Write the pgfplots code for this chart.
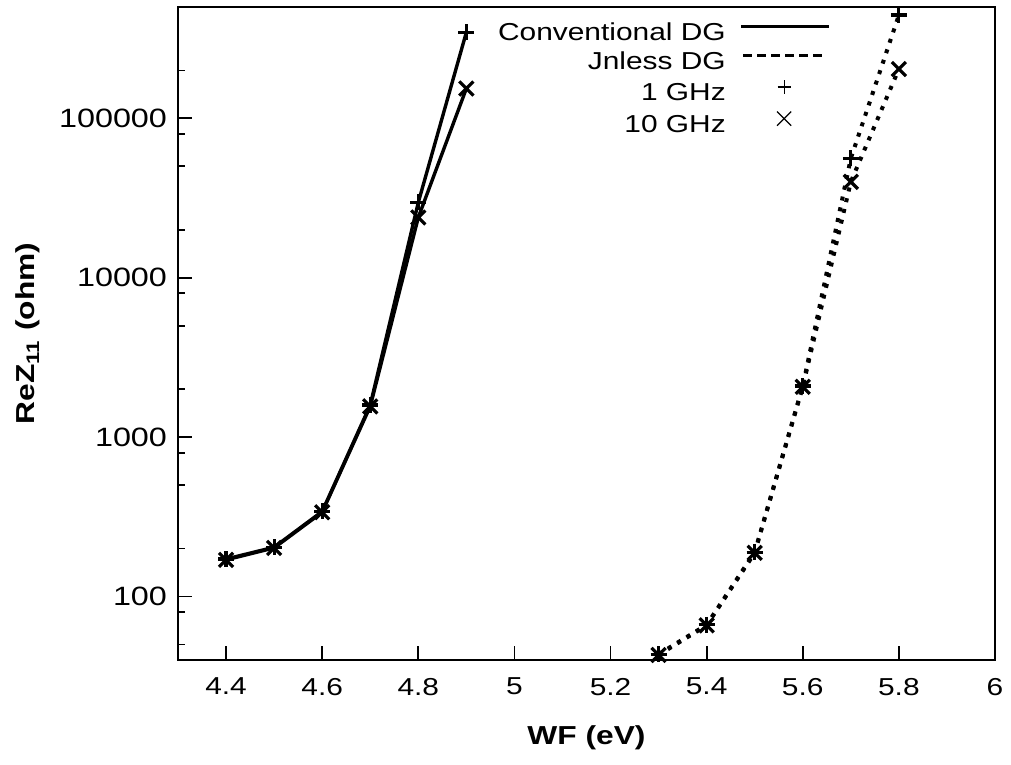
\documentclass[border=0pt]{standalone}
\usepackage{fontspec}
\setmainfont{Liberation Sans}[FakeStretch=1.22]
\usepackage{pgfplots}
\pgfplotsset{compat=1.18}
\begin{document}
\begin{tikzpicture}
\begin{axis}[
  at={(0bp,0bp)}, anchor=south west,
  scale only axis, width=408.5bp, height=326.5bp,
  xmin=4.3, xmax=6, ymin=40, ymax=500000, ymode=log,
  xtick={4.4,4.6,4.8,5,5.2,5.4,5.6,5.8,6},
  xticklabels={4.4,4.6,4.8,5,5.2,5.4,5.6,5.8,6},
  ytick={100,1000,10000,100000},
  yticklabels={100,1000,10000,100000},
  minor ytick={50,80,200,500,800,2000,5000,8000,20000,50000,80000,200000},
  tick align=inside, xtick pos=bottom, ytick pos=left,
  major tick length=7bp, minor tick length=3.5bp,
  every tick/.style={black, line width=0.9bp},
  axis line style={line width=0.9bp},
  font=\fontsize{12.25bp}{14.7bp}\selectfont,
  /pgf/number format/assume math mode=true,
  xticklabel style={yshift=-5.5bp},
  yticklabel style={xshift=-2bp, font=\fontsize{13.25bp}{15bp}\selectfont},
  xlabel={\textbf{WF (eV)}},
  ylabel={\textbf{ReZ\textsubscript{11} (ohm)}},
  xlabel style={at={(axis description cs:0.5,-0.1195)}, anchor=center, font=\fontsize{13bp}{15bp}\selectfont},
  ylabel style={at={(axis description cs:-0.1836,0.5)}, anchor=center, font=\fontsize{13bp}{15bp}\selectfont},
  legend style={draw=none, fill=none, inner sep=0pt, at={(rel axis cs:0.7993,0.977)}, anchor=north east,
     nodes={inner sep=0pt, text height=9bp, text depth=2.5bp}, row sep=3bp, column sep=0bp},
  legend cell align=right, legend plot pos=right,
]
\addlegendimage{legend image code/.code={\path (-7.5bp,0bp) (44bp,0bp); \draw[line width=1.5bp] (0bp,3.5bp) -- (44bp,3.5bp);}}
\addlegendentry{Conventional DG}
\addlegendimage{legend image code/.code={\path (-7.5bp,0bp) (44bp,0bp); \draw[line width=1.5bp, dash pattern=on 4.5bp off 2.5bp] (1bp,3.5bp) -- (41bp,3.5bp);}}
\addlegendentry{Jnless DG}
\addlegendimage{legend image code/.code={\path (-7.5bp,0bp) (44bp,0bp); \draw[line width=0.6bp] plot[mark=+, mark size=3.3bp] coordinates {(21.5bp,3.5bp)};}}
\addlegendentry{1 GHz}
\addlegendimage{legend image code/.code={\path (-7.5bp,0bp) (44bp,0bp); \draw[line width=0.6bp] plot[mark=x, mark size=5bp] coordinates {(21.5bp,3.5bp)};}}
\addlegendentry{10 GHz}

\addplot[forget plot, black, line width=1.7bp, mark=+, mark size=4bp, mark options={solid, line width=1.6bp}]
  coordinates {(4.4,172)(4.5,204)(4.6,342)(4.7,1590)(4.8,29700)(4.9,347000)};
\addplot[forget plot, black, line width=1.7bp, mark=x, mark size=5bp, mark options={solid, line width=1.6bp}]
  coordinates {(4.4,170)(4.5,202)(4.6,338)(4.7,1560)(4.8,23900)(4.9,154000)};
\addplot[forget plot, black, line width=2bp, dash pattern=on 2bp off 3.5bp, mark=+, mark size=4bp, mark options={solid, line width=1.6bp}]
  coordinates {(5.3,43.5)(5.4,66.5)(5.5,190)(5.6,2094)(5.7,56100)(5.8,445000)};
\addplot[forget plot, black, line width=2bp, dash pattern=on 2bp off 3.5bp, mark=x, mark size=5bp, mark options={solid, line width=1.6bp}]
  coordinates {(5.3,43)(5.4,66)(5.5,188)(5.6,2070)(5.7,40000)(5.8,204000)};
\end{axis}
\path[use as bounding box] (-89bp,-52.5bp) rectangle (416.5bp,330bp);
\end{tikzpicture}
\end{document}
